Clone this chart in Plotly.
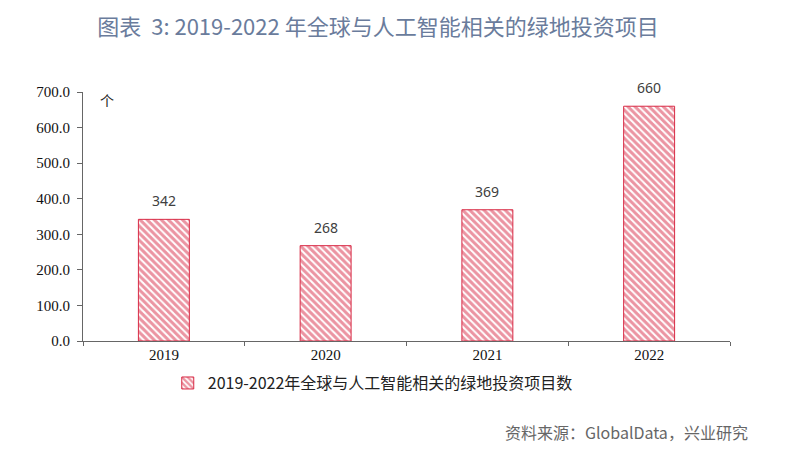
import plotly.graph_objects as go

years = ["2019", "2020", "2021", "2022"]
projects = [342, 268, 369, 660]
labels = ["342", "268", "369", "660"]
y_ticks = [0, 100, 200, 300, 400, 500, 600, 700]

red = "#d82a45"

fig = go.Figure()
fig.add_trace(go.Bar(
    x=years, y=projects,
    name="2019-2022年全球与人工智能相关的绿地投资项目数",
    marker=dict(color="white",
                line=dict(color=red, width=1),
                pattern=dict(shape="\\", fgcolor=red, bgcolor="white", size=5, solidity=0.6)),
))

annotations = [
    dict(x=i, y=v, text=t, xref="x", yref="y", yanchor="bottom", yshift=7,
         showarrow=False, font=dict(family="Noto Sans, DejaVu Sans", size=14, color="#404040"))
    for i, (v, t) in enumerate(zip(projects, labels))
]
annotations += [
    dict(text="个", xref="paper", yref="paper", x=0.023, y=0.968, xanchor="left", yanchor="middle",
         showarrow=False, font=dict(family="Noto Sans CJK SC", size=14, color="#222222")),
    dict(text="资料来源：GlobalData，兴业研究", xref="paper", yref="paper", x=1.031, y=-0.365,
         xanchor="right", yanchor="middle", showarrow=False,
         font=dict(family="Noto Sans CJK SC", size=16, color="#666666")),
]

fig.update_layout(
    width=800, height=453,
    margin=dict(l=75, r=78, t=84, b=120, autoexpand=False),
    paper_bgcolor="white", plot_bgcolor="white",
    bargap=0.685,
    showlegend=True,
    legend=dict(orientation="h", x=0.131, y=-0.169, xanchor="left", yanchor="middle",
                font=dict(family="Noto Sans CJK SC", size=16, color="#222222"),
                itemwidth=30),
    title=dict(text="图表  3: 2019-2022 年全球与人工智能相关的绿地投资项目",
               x=0.4625, xanchor="center", y=0.957, yanchor="middle",
               font=dict(family="Noto Sans CJK SC", size=22, color="#6a7c9c")),
    xaxis=dict(type="category", showline=True, linecolor="#666666", linewidth=1,
               ticks="outside", tickson="boundaries", ticklen=4, tickcolor="#666666",
               tickfont=dict(family="Liberation Serif", size=15, color="#111111"),
               range=[-0.5, 3.5], automargin=False),
    yaxis=dict(range=[0, 700], tickvals=y_ticks, tickformat=".1f",
               showline=True, linecolor="#666666", linewidth=1,
               ticks="outside", ticklen=5, tickcolor="#666666", ticklabelstandoff=4,
               showgrid=False, zeroline=False, automargin=False,
               tickfont=dict(family="Liberation Serif", size=15, color="#111111")),
    annotations=annotations,
)

fig.write_html("out.html")
